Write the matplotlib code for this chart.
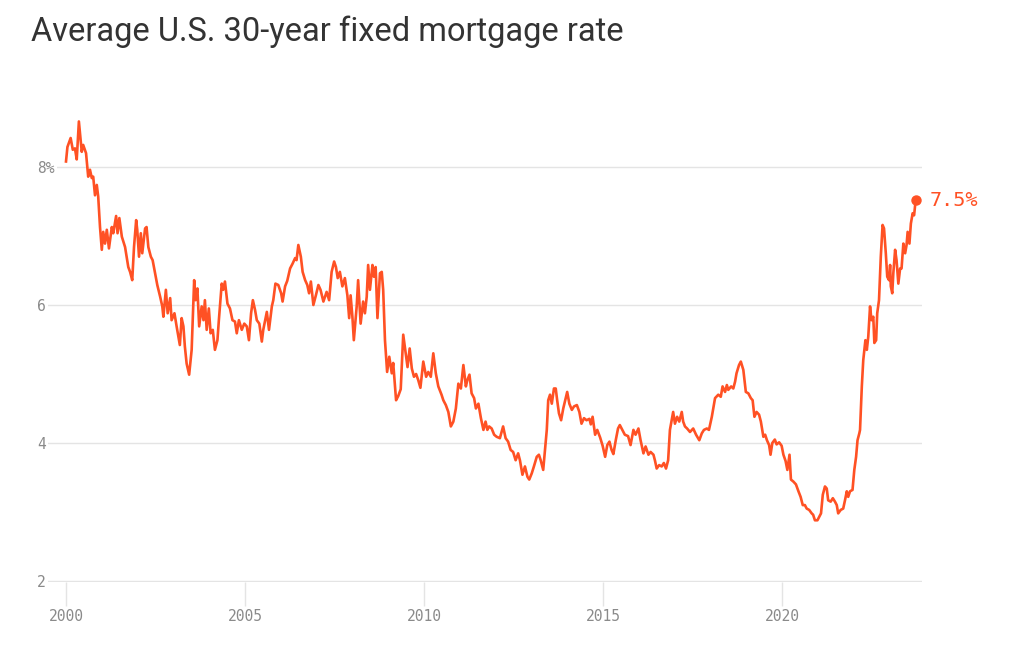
import matplotlib
matplotlib.use("Agg")
import matplotlib.pyplot as plt

title = "Average U.S. 30-year fixed mortgage rate"

# decimal year, rate (%)
years = [
    2000.00, 2000.04, 2000.13, 2000.19, 2000.25, 2000.30, 2000.36, 2000.44, 2000.48, 2000.56,
    2000.62, 2000.67, 2000.72, 2000.76, 2000.81, 2000.86, 2000.90, 2000.95, 2001.00, 2001.04,
    2001.09, 2001.14, 2001.20, 2001.28, 2001.32, 2001.40, 2001.44, 2001.49, 2001.56, 2001.65,
    2001.74, 2001.79, 2001.85, 2001.90, 2001.96, 2001.99, 2002.04, 2002.09, 2002.13, 2002.21,
    2002.25, 2002.30, 2002.37, 2002.42, 2002.49, 2002.55, 2002.63, 2002.69, 2002.72, 2002.79,
    2002.84, 2002.91, 2002.95, 2003.03, 2003.09, 2003.18, 2003.23, 2003.28, 2003.32, 2003.37,
    2003.44, 2003.51, 2003.58, 2003.62, 2003.67, 2003.72, 2003.79, 2003.84, 2003.88, 2003.93,
    2003.99, 2004.04, 2004.10, 2004.16, 2004.23, 2004.27, 2004.35, 2004.39, 2004.44, 2004.51,
    2004.58, 2004.65, 2004.72, 2004.77, 2004.83, 2004.91, 2004.98, 2005.05, 2005.11, 2005.17,
    2005.22, 2005.28, 2005.33, 2005.40, 2005.47, 2005.51, 2005.61, 2005.67, 2005.75, 2005.79,
    2005.85, 2005.93, 2006.01, 2006.05, 2006.12, 2006.18, 2006.26, 2006.33, 2006.40, 2006.44,
    2006.49, 2006.56, 2006.61, 2006.68, 2006.74, 2006.79, 2006.84, 2006.91, 2006.98, 2007.05,
    2007.11, 2007.19, 2007.28, 2007.35, 2007.42, 2007.49, 2007.54, 2007.59, 2007.65, 2007.72,
    2007.79, 2007.86, 2007.91, 2007.95, 2008.00, 2008.04, 2008.12, 2008.16, 2008.23, 2008.30,
    2008.35, 2008.40, 2008.44, 2008.49, 2008.56, 2008.60, 2008.65, 2008.70, 2008.77, 2008.82,
    2008.86, 2008.91, 2008.97, 2009.03, 2009.10, 2009.14, 2009.22, 2009.28, 2009.35, 2009.42,
    2009.49, 2009.54, 2009.60, 2009.66, 2009.72, 2009.78, 2009.84, 2009.90, 2009.98, 2010.06,
    2010.12, 2010.19, 2010.26, 2010.33, 2010.40, 2010.49, 2010.54, 2010.61, 2010.68, 2010.75,
    2010.82, 2010.89, 2010.96, 2011.03, 2011.10, 2011.17, 2011.21, 2011.27, 2011.33, 2011.40,
    2011.45, 2011.52, 2011.59, 2011.66, 2011.72, 2011.77, 2011.82, 2011.89, 2011.96, 2012.03,
    2012.12, 2012.21, 2012.28, 2012.35, 2012.42, 2012.49, 2012.56, 2012.63, 2012.68, 2012.75,
    2012.82, 2012.89, 2012.94, 2013.01, 2013.07, 2013.15, 2013.21, 2013.26, 2013.33, 2013.38,
    2013.43, 2013.47, 2013.52, 2013.57, 2013.63, 2013.68, 2013.72, 2013.77, 2013.83, 2013.89,
    2013.97, 2014.00, 2014.06, 2014.13, 2014.19, 2014.27, 2014.34, 2014.40, 2014.47, 2014.54,
    2014.62, 2014.66, 2014.71, 2014.78, 2014.84, 2014.92, 2014.99, 2015.06, 2015.12, 2015.18,
    2015.24, 2015.29, 2015.36, 2015.42, 2015.47, 2015.54, 2015.61, 2015.70, 2015.77, 2015.85,
    2015.91, 2015.99, 2016.05, 2016.13, 2016.19, 2016.27, 2016.33, 2016.41, 2016.45, 2016.50,
    2016.57, 2016.64, 2016.70, 2016.76, 2016.82, 2016.87, 2016.92, 2016.96, 2017.01, 2017.07,
    2017.13, 2017.20, 2017.24, 2017.29, 2017.35, 2017.43, 2017.52, 2017.60, 2017.69, 2017.76,
    2017.82, 2017.90, 2017.96, 2018.04, 2018.08, 2018.13, 2018.22, 2018.29, 2018.34, 2018.41,
    2018.46, 2018.50, 2018.58, 2018.64, 2018.69, 2018.73, 2018.80, 2018.85, 2018.92, 2018.99,
    2019.06, 2019.13, 2019.18, 2019.23, 2019.29, 2019.36, 2019.41, 2019.48, 2019.53, 2019.58,
    2019.64, 2019.68, 2019.73, 2019.80, 2019.85, 2019.92, 2019.99, 2020.04, 2020.10, 2020.15,
    2020.21, 2020.25, 2020.32, 2020.39, 2020.46, 2020.52, 2020.58, 2020.64, 2020.69, 2020.76,
    2020.83, 2020.87, 2020.92, 2020.99, 2021.04, 2021.09, 2021.14, 2021.20, 2021.25, 2021.29,
    2021.36, 2021.42, 2021.48, 2021.53, 2021.57, 2021.64, 2021.71, 2021.76, 2021.81, 2021.85,
    2021.90, 2021.97, 2022.02, 2022.07, 2022.11, 2022.16, 2022.18, 2022.23, 2022.27, 2022.33,
    2022.37, 2022.41, 2022.46, 2022.50, 2022.55, 2022.58, 2022.63, 2022.66, 2022.71, 2022.76,
    2022.81, 2022.85, 2022.90, 2022.94, 2022.99, 2023.02, 2023.04, 2023.08, 2023.11, 2023.16,
    2023.20, 2023.25, 2023.30, 2023.34, 2023.39, 2023.44, 2023.48, 2023.51, 2023.56, 2023.60,
    2023.65, 2023.69, 2023.72, 2023.74,
]
rates = [
    8.08, 8.29, 8.42, 8.25, 8.27, 8.11, 8.66, 8.22, 8.32, 8.20,
    7.86, 7.96, 7.84, 7.86, 7.59, 7.74, 7.57, 7.13, 6.80, 7.06,
    6.89, 7.09, 6.82, 7.13, 7.04, 7.29, 7.04, 7.26, 6.99, 6.84,
    6.55, 6.48, 6.36, 6.84, 7.23, 7.09, 6.70, 7.04, 6.75, 7.11,
    7.13, 6.84, 6.70, 6.65, 6.46, 6.29, 6.12, 5.98, 5.83, 6.22,
    5.88, 6.10, 5.78, 5.88, 5.69, 5.42, 5.81, 5.69, 5.40, 5.15,
    4.99, 5.35, 6.36, 6.07, 6.24, 5.69, 5.98, 5.78, 6.07, 5.64,
    5.95, 5.59, 5.64, 5.35, 5.49, 5.78, 6.31, 6.22, 6.34, 6.02,
    5.95, 5.78, 5.76, 5.59, 5.78, 5.64, 5.73, 5.69, 5.49, 5.88,
    6.07, 5.93, 5.78, 5.73, 5.47, 5.64, 5.90, 5.64, 5.98, 6.07,
    6.31, 6.29, 6.17, 6.05, 6.27, 6.35, 6.53, 6.60, 6.68, 6.65,
    6.87, 6.70, 6.48, 6.36, 6.29, 6.17, 6.34, 6.00, 6.14, 6.29,
    6.22, 6.05, 6.19, 6.07, 6.48, 6.63, 6.55, 6.39, 6.48, 6.27,
    6.39, 6.14, 5.81, 6.14, 5.83, 5.49, 5.98, 6.36, 5.73, 6.05,
    5.88, 6.12, 6.58, 6.22, 6.58, 6.41, 6.55, 5.81, 6.46, 6.48,
    6.22, 5.49, 5.03, 5.25, 5.01, 5.16, 4.62, 4.68, 4.78, 5.57,
    5.30, 5.10, 5.37, 5.08, 4.96, 5.00, 4.91, 4.80, 5.18, 4.96,
    5.03, 4.96, 5.30, 5.01, 4.82, 4.70, 4.62, 4.55, 4.45, 4.24,
    4.31, 4.50, 4.86, 4.79, 5.13, 4.82, 4.91, 4.99, 4.72, 4.65,
    4.50, 4.57, 4.36, 4.19, 4.31, 4.19, 4.24, 4.21, 4.12, 4.09,
    4.07, 4.24, 4.07, 4.02, 3.90, 3.87, 3.75, 3.85, 3.75, 3.54,
    3.66, 3.51, 3.47, 3.56, 3.66, 3.80, 3.83, 3.75, 3.61, 3.90,
    4.19, 4.62, 4.70, 4.57, 4.79, 4.79, 4.62, 4.43, 4.33, 4.50,
    4.67, 4.74, 4.57, 4.48, 4.53, 4.55, 4.45, 4.28, 4.36, 4.33,
    4.35, 4.27, 4.38, 4.12, 4.19, 4.08, 3.96, 3.80, 3.97, 4.02,
    3.90, 3.84, 4.05, 4.21, 4.26, 4.19, 4.12, 4.10, 3.97, 4.19,
    4.12, 4.21, 4.04, 3.85, 3.95, 3.83, 3.87, 3.83, 3.75, 3.63,
    3.68, 3.66, 3.71, 3.63, 3.75, 4.19, 4.33, 4.45, 4.28, 4.38,
    4.31, 4.45, 4.31, 4.24, 4.21, 4.16, 4.21, 4.12, 4.04, 4.14,
    4.19, 4.21, 4.19, 4.38, 4.50, 4.65, 4.70, 4.67, 4.82, 4.74,
    4.84, 4.77, 4.82, 4.79, 4.89, 5.01, 5.13, 5.18, 5.06, 4.74,
    4.72, 4.65, 4.62, 4.38, 4.45, 4.41, 4.31, 4.09, 4.12, 4.04,
    3.97, 3.83, 4.00, 4.05, 3.98, 4.01, 3.96, 3.83, 3.74, 3.61,
    3.83, 3.47, 3.44, 3.40, 3.30, 3.22, 3.10, 3.10, 3.05, 3.03,
    2.98, 2.96, 2.88, 2.88, 2.93, 2.98, 3.25, 3.37, 3.34, 3.17,
    3.15, 3.20, 3.15, 3.10, 2.98, 3.03, 3.05, 3.17, 3.30, 3.22,
    3.30, 3.32, 3.61, 3.80, 4.04, 4.14, 4.19, 4.82, 5.20, 5.49,
    5.35, 5.54, 5.98, 5.78, 5.83, 5.45, 5.49, 5.88, 6.07, 6.70,
    7.16, 7.11, 6.75, 6.41, 6.36, 6.58, 6.27, 6.17, 6.46, 6.80,
    6.65, 6.31, 6.53, 6.53, 6.89, 6.75, 6.87, 7.06, 6.89, 7.18,
    7.33, 7.30, 7.45, 7.52,
]

x_ticks = [2000, 2005, 2010, 2015, 2020]
x_tick_labels = ["2000", "2005", "2010", "2015", "2020"]
y_ticks = [2, 4, 6, 8]
y_tick_labels = ["2", "4", "6", "8%"]

LINE = "#ff5124"
GRID = "#e4e4e4"
LABEL = "#8a8a8a"
MONO = ["DejaVu Sans Mono"]

W, H = 1009, 646
PX_PER_UNIT = 69.0
Y_LOW, Y_HIGH = 1.99, 9.0
bottom_px = 581 + (2 - Y_LOW) * PX_PER_UNIT
height_px = (Y_HIGH - Y_LOW) * PX_PER_UNIT

fig = plt.figure(figsize=(W / 100, H / 100), dpi=100)
fig.patch.set_facecolor("white")

ax = fig.add_axes([37 / W, 1 - bottom_px / H, 885 / W, height_px / H])
ax.set_facecolor("white")
ax.set_xlim(1999.19, 2023.911)
ax.set_ylim(Y_LOW, Y_HIGH)

ax.plot(years, rates, color=LINE, lw=1.9, solid_joinstyle="round", zorder=3)
ax.plot([years[-1]], [rates[-1]], "o", color=LINE, ms=6.5, zorder=4, clip_on=False)
ax.annotate(f"{rates[-1]:.1f}%", xy=(years[-1], rates[-1]), xytext=(10, 0),
            textcoords="offset points", va="center", ha="left",
            color=LINE, fontsize=14.5, family=MONO, annotation_clip=False)

for s in ax.spines.values():
    s.set_visible(False)

ax.set_yticks(y_ticks)
ax.set_yticklabels(y_tick_labels)
ax.yaxis.grid(True, color=GRID, lw=1.0)
ax.tick_params(axis="y", length=0, pad=0, labelsize=10.5, labelcolor=LABEL)
for lbl in ax.get_yticklabels():
    lbl.set_horizontalalignment("left")
    lbl.set_family(MONO)
    lbl.set_bbox(dict(facecolor="white", edgecolor="none", pad=1.5))

ax.set_xticks(x_ticks)
ax.set_xticklabels(x_tick_labels)
ax.tick_params(axis="x", length=17.5, width=1.0, color=GRID, pad=2.5,
               labelsize=10.5, labelcolor=LABEL)
for lbl in ax.get_xticklabels():
    lbl.set_family(MONO)

fig.text(31 / W, 1 - 41 / H, title, ha="left", va="baseline",
         fontsize=23.5, color="#333333", family=["Roboto", "DejaVu Sans"])

fig.savefig("out.png", dpi=100, facecolor="white")
